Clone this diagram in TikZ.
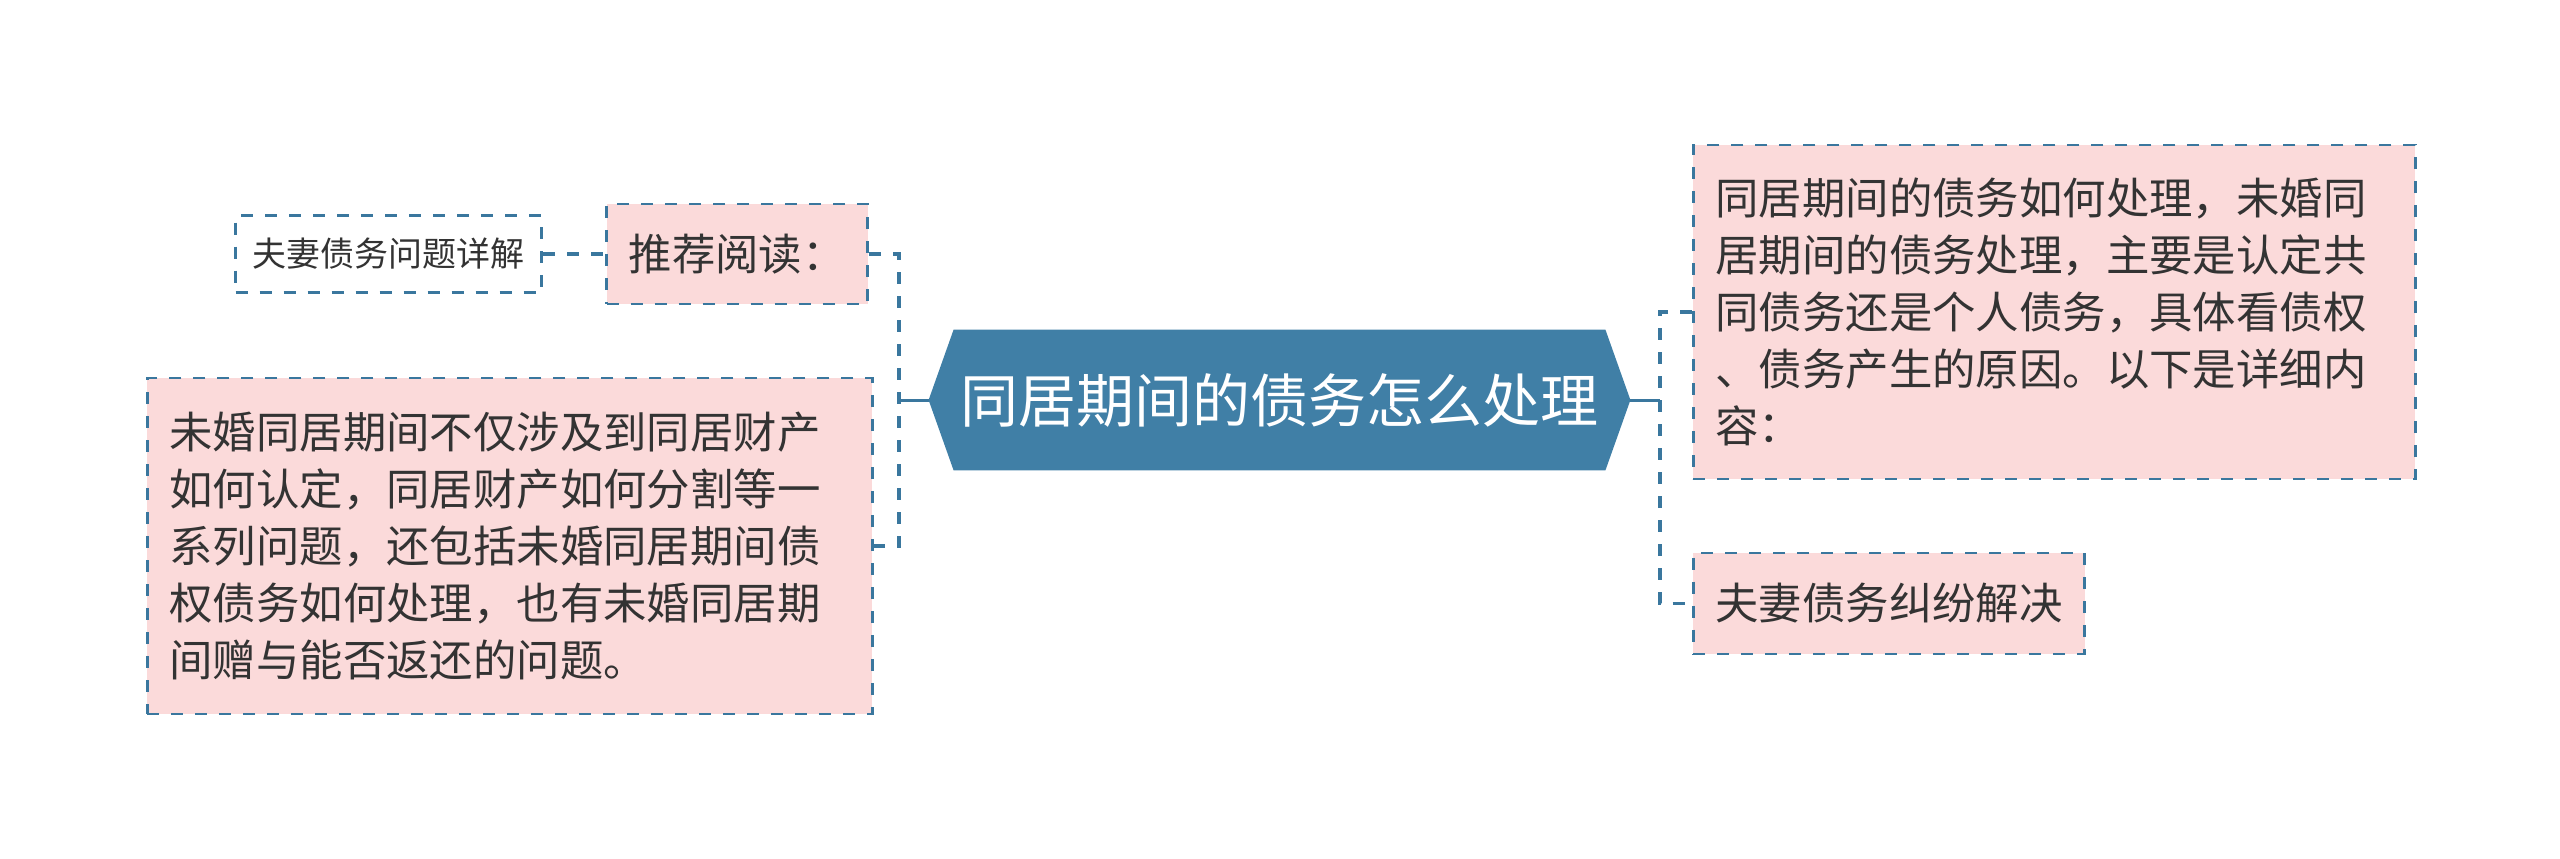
\documentclass[tikz,border=0pt]{standalone}
\usepackage{fontspec}
\setmainfont{Noto Sans CJK SC}
\usetikzlibrary{backgrounds}
\definecolor{hubblue}{RGB}{64,127,166}
\definecolor{lineblue}{RGB}{58,119,158}
\definecolor{notepink}{RGB}{251,218,218}
\definecolor{inkgray}{RGB}{51,51,51}

\begin{document}
\begin{tikzpicture}[x=0.5pt,y=-0.5pt,
  topic/.style={draw=lineblue,line width=1.4pt,dash pattern=on 6pt off 6pt,
    fill=notepink,text=inkgray,align=left,inner xsep=11pt,inner ysep=0pt,
    font=\fontsize{21.7pt}{28.5pt}\selectfont},
  extra/.style={topic,fill=none,inner xsep=8.5pt,minimum height=38.5pt,
    font=\fontsize{17pt}{21pt}\selectfont},
  branch/.style={draw=lineblue,line width=1.8pt,dash pattern=on 6pt off 6pt},
  stem/.style={draw=lineblue,line width=1.5pt}]
\useasboundingbox (0,0) rectangle (2560,858);
% centre topic
\node [minimum width=325.5pt,minimum height=70pt,inner sep=0pt,text=white,
  font=\fontsize{29pt}{34pt}\selectfont] (hub) at (1279.5,400) {同居期间的债务怎么处理};
\coordinate (hubw) at ([xshift=-12.5pt]hub.west);
\coordinate (hube) at ([xshift=12.5pt]hub.east);
\begin{scope}[on background layer]
\fill [hubblue] (hubw) -- (hub.north west) -- (hub.north east) -- (hube)
  -- (hub.south east) -- (hub.south west) -- cycle;
\end{scope}
% left side
\node [topic,anchor=east,minimum height=50pt] (reading) at (869,254) {推荐阅读：};
\node [extra,anchor=east] (detail) at (543,254) {夫妻债务问题详解};
\node [topic,anchor=west,text width=340.5pt,minimum height=168pt] (scope) at (146,546)
  {未婚同居期间不仅涉及到同居财产\\如何认定，同居财产如何分割等一\\系列问题，还包括未婚同居期间债\\权债务如何处理，也有未婚同居期\\间赠与能否返还的问题。};
% right side
\node [topic,anchor=west,text width=339pt,minimum height=167pt] (answer) at (1692,312)
  {同居期间的债务如何处理，未婚同\\居期间的债务处理，主要是认定共\\同债务还是个人债务，具体看债权\\、债务产生的原因。以下是详细内\\容：};
\node [topic,anchor=west,minimum height=50.5pt] (dispute) at (1692,603.5) {夫妻债务纠纷解决};
% connectors
\coordinate (ljoin) at (899,400);
\coordinate (rjoin) at (1660,400);
\draw [stem] (hubw) -- (ljoin);
\draw [stem] (hube) -- (rjoin);
\draw [branch] (reading.east) -| (ljoin) |- (scope.east);
\draw [branch] (answer.west) -| (rjoin) |- (dispute.west);
\draw [branch] (detail.east) -- (reading.west);
\end{tikzpicture}
\end{document}
